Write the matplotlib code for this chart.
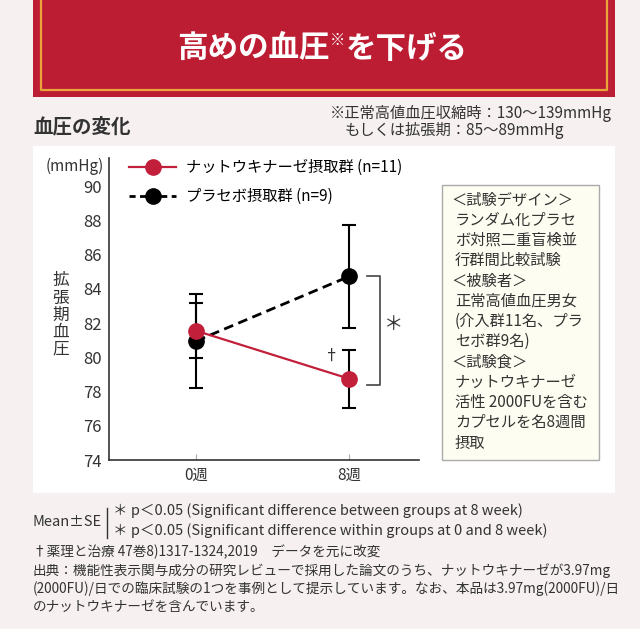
import matplotlib

matplotlib.use("Agg")
import matplotlib.pyplot as plt  # noqa: E402
from matplotlib.lines import Line2D  # noqa: E402
from matplotlib.patches import Rectangle  # noqa: E402

plt.rcParams["font.family"] = ["Noto Sans CJK JP", "DejaVu Sans"]

W, H = 640, 629

# data (mean ± SE, diastolic blood pressure, mmHg)
weeks = ["0週", "8週"]
natto_mean = [81.55, 78.75]
natto_se = [1.6, 1.7]
placebo_mean = [80.95, 84.72]
placebo_se = [2.75, 3.03]
natto_label = "ナットウキナーゼ摂取群 (n=11)"
placebo_label = "プラセボ摂取群 (n=9)"
y_ticks = [74, 76, 78, 80, 82, 84, 86, 88, 90]

design_lines = [
    "＜試験デザイン＞",
    "ランダム化プラセ",
    "ボ対照二重盲検並",
    "行群間比較試験",
    "＜被験者＞",
    "正常高値血圧男女",
    "(介入群11名、プラ",
    "セボ群9名)",
    "＜試験食＞",
    "ナットウキナーゼ",
    "活性 2000FUを含む",
    "カプセルを名8週間",
    "摂取",
]
footnotes = [
    "†薬理と治療 47巻8)1317-1324,2019　データを元に改変",
    "出典：機能性表示関与成分の研究レビューで採用した論文のうち、ナットウキナーゼが3.97mg",
    "(2000FU)/日での臨床試験の1つを事例として提示しています。なお、本品は3.97mg(2000FU)/日",
    "のナットウキナーゼを含んでいます。",
]

RED = "#c21f3a"
TXT = "#333333"


def fx(x):
    return x / W


def fy(y):
    return 1 - y / H


def box(x0, y0, x1, y1, **kw):
    fig.add_artist(
        Rectangle((fx(x0), fy(y1)), (x1 - x0) / W, (y1 - y0) / H,
                  transform=fig.transFigure, **kw)
    )


def line(xs, ys, **kw):
    fig.add_artist(Line2D([fx(x) for x in xs], [fy(y) for y in ys],
                          transform=fig.transFigure, **kw))


def text(x, y, s, **kw):
    kw.setdefault("color", TXT)
    kw.setdefault("va", "center")
    fig.text(fx(x), fy(y), s, **kw)


fig = plt.figure(figsize=(W / 100, H / 100), dpi=100)
fig.patch.set_facecolor("#f6f0f0")

# banner
box(33, -2, 615, 97, facecolor="#bd1d33", edgecolor="none", zorder=-3)
line([41, 41, 607, 607], [-2, 90, 90, -2], color="#eaa43c", lw=1.6, zorder=-2)
text(330, 49, "高めの血圧", ha="right", color="white", fontsize=22, weight="bold")
text(338, 40, "※", ha="center", color="white", fontsize=11)
text(346, 49, "を下げる", ha="left", color="white", fontsize=22, weight="bold")

text(33, 127, "血圧の変化", fontsize=14, weight="bold")
text(330, 113, "※正常高値血圧収縮時：130〜139mmHg", fontsize=11)
text(345, 130, "もしくは拡張期：85〜89mmHg", fontsize=11)

# white chart panel
box(33, 146, 615, 493, facecolor="white", edgecolor="none", zorder=-3)

ax = fig.add_axes([fx(109), fy(460), 310 / W, 302 / H])
ax.set_facecolor("none")
x = [0, 1]
ax.errorbar(x, placebo_mean, yerr=placebo_se, fmt="none", ecolor="black",
            elinewidth=1.5, capsize=5, capthick=1.5, zorder=2)
ax.errorbar(x, natto_mean, yerr=natto_se, fmt="none", ecolor="black",
            elinewidth=1.5, capsize=5, capthick=1.5, zorder=2)
ax.plot(x, placebo_mean, color="black", lw=2.0, ls=(0, (3.5, 2)),
        marker="o", ms=11, zorder=3)
ax.plot(x, natto_mean, color=RED, lw=1.6, marker="o", ms=11, zorder=4)

# significance bracket between groups at week 8
bx0, bx1 = 1.118, 1.203
ax.plot([bx0, bx1, bx1, bx0], [placebo_mean[1], placebo_mean[1],
                              natto_mean[1] - 0.35, natto_mean[1] - 0.35],
        color="#444444", lw=1.2, clip_on=False)
ax.text(1.294, (placebo_mean[1] + natto_mean[1]) / 2 + 0.2, "＊",
        ha="center", va="center", fontsize=14, color=TXT)
ax.text(0.882, 80.03, "†", ha="center", va="center", fontsize=11, color=TXT)

ax.set_xlim(-0.569, 1.458)
ax.set_ylim(74, 91.64)
ax.set_xticks(x)
ax.set_xticklabels(weeks)
ax.set_yticks(y_ticks)
for s in ("top", "right"):
    ax.spines[s].set_visible(False)
for s in ("left", "bottom"):
    ax.spines[s].set_color("#333333")
    ax.spines[s].set_linewidth(1.2)
ax.tick_params(axis="y", length=0, pad=5, labelsize=12, labelcolor=TXT)
ax.tick_params(axis="x", direction="in", length=4, color="#aaaaaa",
               pad=5, labelsize=11, labelcolor=TXT)

handles = [
    Line2D([], [], color=RED, lw=1.6, marker="o", ms=11),
    Line2D([], [], color="black", lw=2.0, ls=(0, (2.2, 1.6)), marker="o", ms=11),
]
ax.legend(handles, [natto_label, placebo_label], loc="upper left",
          bbox_to_anchor=(fx(129), fy(159)), bbox_transform=fig.transFigure,
          frameon=False, fontsize=11, handlelength=3.1, handletextpad=0.6,
          labelspacing=0.8, borderpad=0, borderaxespad=0)

text(104, 166, "(mmHg)", ha="right", fontsize=11)
text(61, 315, "拡\n張\n期\n血\n圧", ha="center", fontsize=12, linespacing=1.0)

# study design box
box(442, 185, 599, 460, facecolor="#fdfdf1", edgecolor="#aaaaaa", lw=1.0,
    zorder=-1)
for i, s in enumerate(design_lines):
    x0 = 451 if s.startswith("＜") else 455
    text(x0, 200 + i * 20.25, s, fontsize=11)

# footnotes
text(33, 522, "Mean±SE", fontsize=10.5)
line([107, 107], [508, 538], color=TXT, lw=1.0)
text(113, 511, "＊ p＜0.05 (Significant difference between groups at 8 week)",
     fontsize=10.5)
text(113, 531, "＊ p＜0.05 (Significant difference within groups at 0 and 8 week)",
     fontsize=10.5)
for i, s in enumerate(footnotes):
    text(33, 552 + i * 18.3, s, fontsize=9.8)

fig.savefig("out.png", dpi=100, facecolor=fig.get_facecolor())
